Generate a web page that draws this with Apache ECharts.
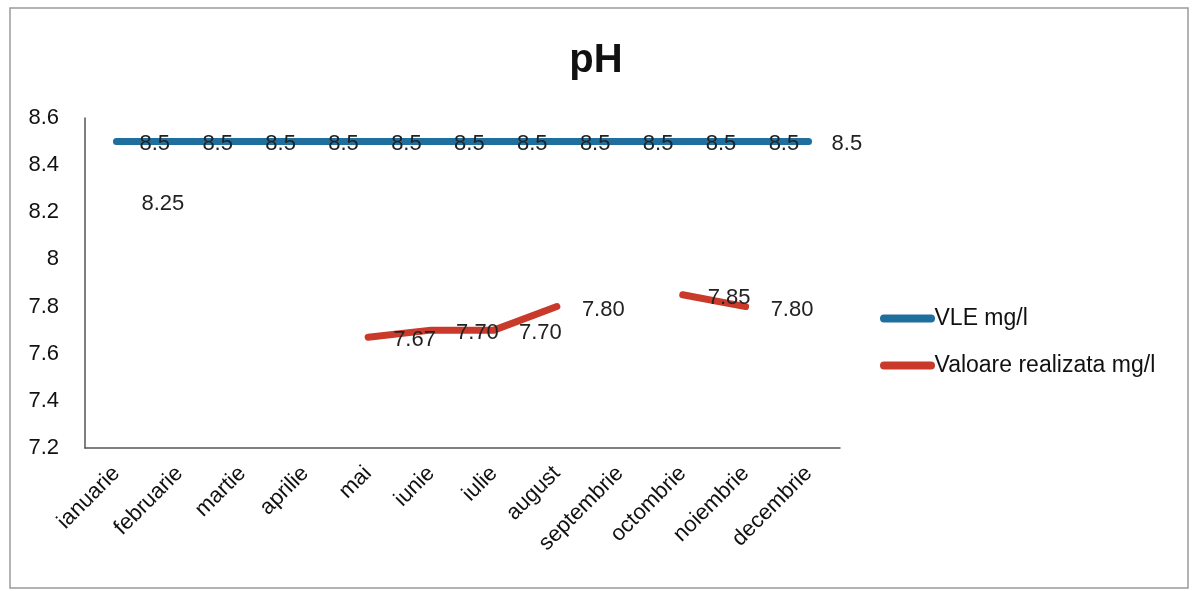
<!DOCTYPE html>
<html><head><meta charset="utf-8">
<script src="https://cdn.jsdelivr.net/npm/echarts@6/dist/echarts.min.js"></script>
<style>html,body{margin:0;padding:0;background:#fff}#c{width:1192px;height:591px}</style>
</head><body><div id="c"></div>
<script>
const categories = ['ianuarie','februarie','martie','aprilie','mai','iunie','iulie','august','septembrie','octombrie','noiembrie','decembrie'];
const vleValues = [8.5,8.5,8.5,8.5,8.5,8.5,8.5,8.5,8.5,8.5,8.5,8.5];
const realValues = [8.25,null,null,null,7.67,7.70,7.70,7.80,null,7.85,7.80,null];
const seriesNames = ['VLE mg/l','Valoare realizata mg/l'];
const yTicks = {min:7.2, max:8.6, interval:0.2};
const FONT = '"Liberation Sans", "DejaVu Sans", sans-serif';

const chart = echarts.init(document.getElementById('c'));
const legendIcon = 'path://M4,0 L51,0 A4,4 0 0 1 51,8 L4,8 A4,4 0 0 1 4,0 Z';
chart.setOption({
  animation:false,
  backgroundColor:'#fff',
  title:{text:'pH', left:'center', top:36, textStyle:{fontSize:40, fontWeight:'bold', color:'#111', fontFamily:FONT}},
  graphic:[{type:'rect', shape:{x:10,y:8,width:1178,height:580}, style:{fill:'none', stroke:'#9a9a9a', lineWidth:1.5}, silent:true}],
  legend:{orient:'vertical', left:875, top:302, itemWidth:56, itemHeight:8, itemGap:24, icon:legendIcon,
    textStyle:{fontSize:23, color:'#111', fontFamily:FONT, padding:[0,0,0,-6]}, data:seriesNames},
  grid:{left:85, right:352, top:118, bottom:143},
  xAxis:{type:'category', data:categories, boundaryGap:true,
    axisLine:{lineStyle:{color:'#555', width:1.5}}, axisTick:{show:false},
    axisLabel:{rotate:45, fontSize:22, color:'#111', fontFamily:FONT, margin:22, interval:0}},
  yAxis:{type:'value', min:yTicks.min, max:yTicks.max, interval:yTicks.interval,
    axisLine:{show:true, lineStyle:{color:'#555', width:1.5}}, axisTick:{show:false}, splitLine:{show:false},
    axisLabel:{fontSize:22, color:'#111', fontFamily:FONT, margin:26,
      formatter:v=>{const r=Math.round(v*10)/10; return (r%1===0)?String(r):r.toFixed(1);}}},
  series:[
    {name:seriesNames[0], type:'line', data:vleValues, symbol:'circle', symbolSize:0, showSymbol:true,
     itemStyle:{color:'#1f6f9e'}, lineStyle:{color:'#1f6f9e', width:7, cap:'round', join:'round'},
     label:{show:true, position:'right', distance:23, offset:[0,2], fontSize:22, color:'#222', fontFamily:FONT, formatter:p=>String(p.value)}},
    {name:seriesNames[1], type:'line', data:realValues, symbol:'circle', symbolSize:0, showSymbol:true, connectNulls:false,
     itemStyle:{color:'#c93a2b'}, lineStyle:{color:'#c93a2b', width:7, cap:'round', join:'round'},
     label:{show:true, position:'right', distance:25, offset:[0,3], fontSize:22, color:'#222', fontFamily:FONT,
       formatter:p=>p.value==null?'':Number(p.value).toFixed(2)}}
  ]
});
</script></body></html>
